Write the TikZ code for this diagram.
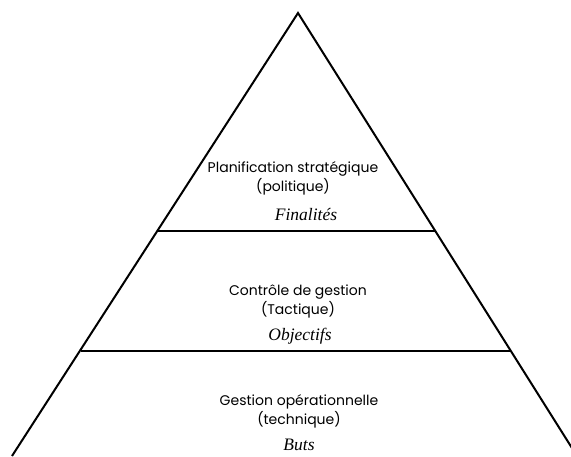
\documentclass[tikz,border=0pt]{standalone}
\usepackage{fontspec}
\setmainfont{Poppins}
\newfontfamily\goalfont{Liberation Serif}
\begin{document}
\begin{tikzpicture}[x=1pt,y=-1pt,
  edge/.style={line width=2pt,line join=miter},
  level/.style={line width=2.6pt},
  lbl/.style={font=\fontsize{14}{19}\selectfont,align=center,inner sep=0pt},
  goal/.style={font=\goalfont\itshape\fontsize{17.5}{19}\selectfont,inner sep=0pt}]
\useasboundingbox (0,0) rectangle (571,456);
\begin{scope}
\clip (0,0) rectangle (571,456);
% outer triangle
\coordinate (apex) at (298,13);
\coordinate (bl) at (12,456);
\coordinate (br) at (577,456);
\draw[edge] (bl) -- (apex) -- (br);
% level separators
\coordinate (l1a) at (157,231);
\coordinate (l1b) at (436,231);
\coordinate (l2a) at (81,351);
\coordinate (l2b) at (511,351);
\draw[level] (l1a) -- (l1b);
\draw[level] (l2a) -- (l2b);
\end{scope}
% texts
\node[lbl] (t1) at (293,178.5) {Planification stratégique\\(politique)};
\node[goal] (g1) at (306,215) {Finalités};
\node[lbl] (t2) at (298,301) {Contrôle de gestion\\(Tactique)};
\node[goal] (g2) at (300,336) {Objectifs};
\node[lbl] (t3) at (299,411) {Gestion opérationnelle\\(technique)};
\node[goal] (g3) at (299,445) {Buts};
\end{tikzpicture}
\end{document}
